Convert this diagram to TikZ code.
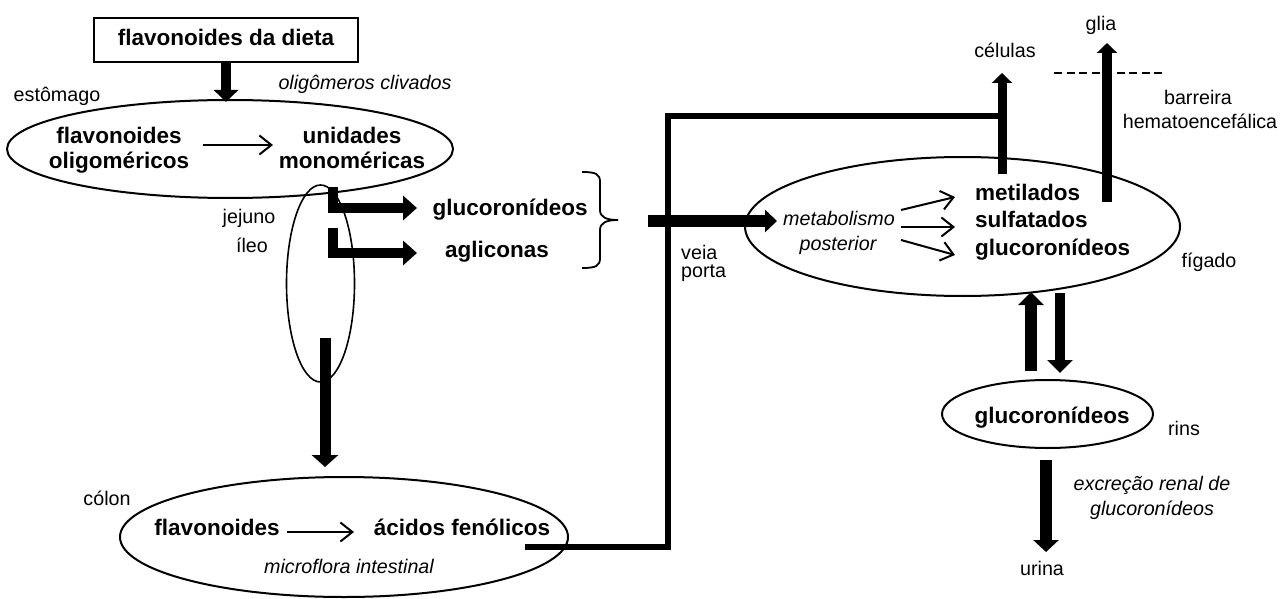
\documentclass[tikz,border=0pt]{standalone}
\usepackage{fontspec}
\setmainfont{Liberation Sans}
\usetikzlibrary{arrows.meta,shapes.geometric}
\begin{document}
\begin{tikzpicture}[x=1pt,y=1pt,
 lblB/.style={font=\fontsize{22.5}{27}\selectfont\bfseries, inner sep=0pt, text height=16.2pt, text depth=4.7pt},
 lblR/.style={font=\fontsize{19.7}{24}\selectfont, inner sep=0pt, text height=14.2pt, text depth=4.1pt},
 lblI/.style={lblR, font=\fontsize{19.7}{24}\selectfont\itshape},
 organ/.style={draw, ellipse, line width=2pt, inner sep=0pt},
 fat/.style={line width=10pt, line join=miter, -{Triangle[length=12pt,width=24pt]}},
 thinarr/.style={line width=2pt, -{Straight Barb[length=12pt,width=19pt]}},
]
\useasboundingbox (0,0) rectangle (1281,-599);

% ---------- stomach ----------
\node[draw, line width=2.2pt, minimum width=264pt, minimum height=44pt, lblB] (dieta) at (226,-40) {flavonoides da dieta};
\node[organ, minimum width=446pt, minimum height=98pt] (estomago) at (230,-149) {};
\node[lblR] (lest) at (57,-96) {estômago};
\node[lblI] (lolig) at (365,-84) {oligômeros clivados};
\node[lblB] (fo1) at (119,-138) {flavonoides};
\node[lblB] (fo2) at (119,-163) {oligoméricos};
\node[lblB] (um1) at (352,-138) {unidades};
\node[lblB] (um2) at (352,-163) {monoméricas};
\coordinate (dtip) at (226,-102);
\draw[fat] (dieta.south) -- (dtip);
\coordinate (a1s) at (203,-145);
\coordinate (a1e) at (273,-145);
\draw[thinarr] (a1s) -- (a1e);

% ---------- jejuno / ileo ----------
\node[draw, ellipse, line width=1.6pt, minimum width=68pt, minimum height=197pt, inner sep=0pt] (jej) at (320.5,-283.5) {};
\node[lblR] (ljej) at (249,-218) {jejuno};
\node[lblR] (lile) at (252,-247) {íleo};
\coordinate (L1s) at (333,-187);
\coordinate (L1e) at (417,-208);
\coordinate (L2s) at (333,-228);
\coordinate (L2e) at (417,-253);
\draw[fat, -{Triangle[length=14pt,width=24pt]}] (L1s) |- (L1e);
\draw[fat, -{Triangle[length=14pt,width=24pt]}] (L2s) |- (L2e);
\node[lblB] (glu1) at (510,-210) {glucoronídeos};
\node[lblB] (agl) at (497,-252) {agliconas};
\draw[line width=1.8pt] (582,-172) .. controls (596,-172) and (600,-174) .. (600,-182) -- (600,-210)
  .. controls (600,-217) and (606,-220) .. (618,-220)
  .. controls (606,-220) and (600,-223) .. (600,-230) -- (600,-258)
  .. controls (600,-266) and (596,-268) .. (582,-268);

% ---------- colon ----------
\node[organ, minimum width=448pt, minimum height=120pt] (colon) at (344,-537) {};
\node[lblR] (lcol) at (107,-500) {cólon};
\node[lblB] (cf) at (217,-530) {flavonoides};
\node[lblB] (caf) at (462,-530) {ácidos fenólicos};
\node[lblI] (cmic) at (349,-568) {microflora intestinal};
\coordinate (a2s) at (287,-532);
\coordinate (a2e) at (354,-532);
\draw[thinarr] (a2s) -- (a2e);
\coordinate (cs) at (325,-338);
\coordinate (ce) at (325,-467);
\draw[fat, line width=11pt, -{Triangle[length=12pt,width=26pt]}] (cs) -- (ce);

% ---------- portal connector ----------
\coordinate (pv0) at (525,-547);
\coordinate (pv1) at (668,-116);
\coordinate (pv2) at (1002,-116);
\draw[line width=5.5pt, line join=miter] (pv0) -| (pv1) -- (pv2);
\coordinate (vs) at (648,-221);
\coordinate (ve) at (777,-221);
\draw[line width=12pt, -{Triangle[length=12pt,width=22pt]}] (vs) -- (ve);
\node[lblR, anchor=west] (lveia) at (681,-254) {veia};
\node[lblR, anchor=west] (lporta) at (681,-272) {porta};

% ---------- liver ----------
\node[organ, minimum width=435pt, minimum height=139pt] (figado) at (962.5,-226.5) {};
\node[lblI] (lmet) at (839,-220) {metabolismo};
\node[lblI] (lpos) at (838,-245) {posterior};
\node[lblB, anchor=west] (pmet) at (975,-195) {metilados};
\node[lblB, anchor=west] (psul) at (975,-222) {sulfatados};
\node[lblB, anchor=west] (pglu) at (975,-250) {glucoronídeos};
\coordinate (m1s) at (901,-210); \coordinate (m1e) at (955,-197);
\coordinate (m2s) at (901,-227); \coordinate (m2e) at (955,-227);
\coordinate (m3s) at (901,-240); \coordinate (m3e) at (955,-255);
\draw[thinarr] (m1s) -- (m1e);
\draw[thinarr] (m2s) -- (m2e);
\draw[thinarr] (m3s) -- (m3e);
\node[lblR] (lfig) at (1209,-262) {fígado};

% cells and glia
\coordinate (cels) at (1002,-174);
\coordinate (cele) at (1002,-73);
\draw[line width=9pt, -{Triangle[length=10pt,width=20pt]}] (cels) -- (cele);
\node[lblR] (lcel) at (1005,-52) {células};
\coordinate (glis) at (1107,-202);
\coordinate (glie) at (1107,-43);
\draw[line width=10pt, -{Triangle[length=10pt,width=20pt]}] (glis) -- (glie);
\node[lblR] (lgli) at (1101,-25) {glia};
\coordinate (bbs) at (1054,-73);
\coordinate (bbe) at (1166,-73);
\draw[line width=2.8pt, dash pattern=on 8pt off 4.5pt] (bbs) -- (bbe);
\node[lblR] (lbar) at (1198,-99) {barreira};
\node[lblR] (lhem) at (1200,-123) {hematoencefálica};

% ---------- kidney ----------
\node[organ, minimum width=211pt, minimum height=68pt] (rins) at (1047.5,-414) {};
\node[lblB] (kglu) at (1052,-418) {glucoronídeos};
\node[lblR] (lrins) at (1184,-430) {rins};
\coordinate (ku0) at (1031,-371); \coordinate (ku1) at (1031,-292);
\coordinate (kd0) at (1060,-293); \coordinate (kd1) at (1060,-373);
\draw[line width=12pt, -{Triangle[length=13pt,width=25pt]}] (ku0) -- (ku1);
\draw[line width=10pt, -{Triangle[length=13pt,width=25pt]}] (kd0) -- (kd1);
\coordinate (ex0) at (1046,-460); \coordinate (ex1) at (1046,-552);
\draw[line width=12pt, -{Triangle[length=12pt,width=25pt]}] (ex0) -- (ex1);
\node[lblI] (lexc1) at (1152,-485) {excreção renal de};
\node[lblI] (lexc2) at (1152,-510) {glucoronídeos};
\node[lblR] (luri) at (1042,-570) {urina};
\end{tikzpicture}
\end{document}
